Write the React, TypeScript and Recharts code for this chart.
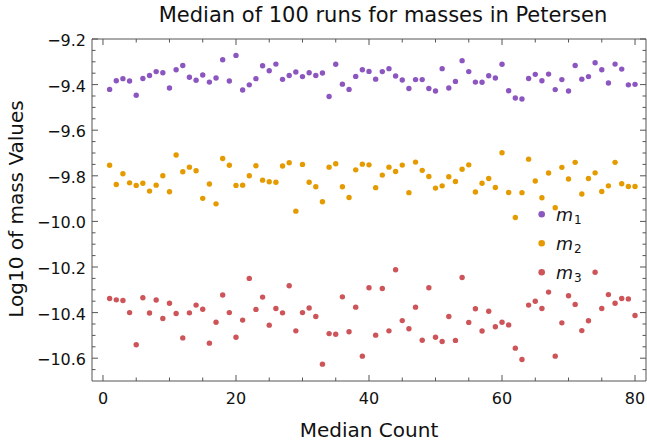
import React from 'react';
import { ScatterChart, Scatter, XAxis, YAxis, ReferenceArea, Legend } from 'recharts';

// x positions (median count index)
const medianCount = [
  1, 2, 3, 4, 5, 6, 7, 8, 9, 10, 11, 12, 13, 14, 15, 16, 17, 18, 19, 20,
  21, 22, 23, 24, 25, 26, 27, 28, 29, 30, 31, 32, 33, 34, 35, 36, 37, 38, 39, 40,
  41, 42, 43, 44, 45, 46, 47, 48, 49, 50, 51, 52, 53, 54, 55, 56, 57, 58, 59, 60,
  61, 62, 63, 64, 65, 66, 67, 68, 69, 70, 71, 72, 73, 74, 75, 76, 77, 78, 79, 80
];

const m1 = [
  -9.421, -9.383, -9.374, -9.384, -9.447, -9.373, -9.36, -9.343, -9.348, -9.415,
  -9.335, -9.316, -9.368, -9.381, -9.358, -9.389, -9.371, -9.291, -9.384, -9.272,
  -9.424, -9.401, -9.374, -9.317, -9.339, -9.31, -9.377, -9.36, -9.345, -9.365,
  -9.348, -9.36, -9.349, -9.452, -9.311, -9.398, -9.421, -9.364, -9.335, -9.342,
  -9.376, -9.343, -9.33, -9.362, -9.38, -9.417, -9.378, -9.378, -9.417, -9.428,
  -9.33, -9.415, -9.386, -9.295, -9.343, -9.389, -9.39, -9.361, -9.371, -9.311,
  -9.427, -9.459, -9.463, -9.373, -9.355, -9.383, -9.354, -9.422, -9.378, -9.428,
  -9.316, -9.376, -9.365, -9.304, -9.335, -9.393, -9.31, -9.332, -9.401, -9.399
];

const m2 = [
  -9.754, -9.838, -9.791, -9.831, -9.842, -9.833, -9.867, -9.841, -9.8, -9.87,
  -9.709, -9.782, -9.762, -9.778, -9.899, -9.836, -9.923, -9.724, -9.754, -9.842,
  -9.841, -9.8, -9.756, -9.819, -9.826, -9.828, -9.757, -9.743, -9.955, -9.75,
  -9.828, -9.848, -9.914, -9.762, -9.747, -9.848, -9.895, -9.774, -9.749, -9.752,
  -9.852, -9.797, -9.762, -9.781, -9.753, -9.874, -9.74, -9.776, -9.803, -9.854,
  -9.844, -9.804, -9.825, -9.771, -9.752, -9.871, -9.833, -9.812, -9.851, -9.699,
  -9.873, -9.983, -9.874, -9.727, -9.823, -9.896, -9.788, -9.94, -9.763, -9.814,
  -9.741, -9.88, -9.812, -9.787, -9.869, -9.844, -9.741, -9.835, -9.847, -9.847
];

const m3 = [
  -10.338, -10.344, -10.347, -10.4, -10.541, -10.335, -10.402, -10.345, -10.426, -10.359,
  -10.404, -10.511, -10.401, -10.367, -10.385, -10.534, -10.442, -10.323, -10.4, -10.508,
  -10.433, -10.25, -10.386, -10.332, -10.455, -10.382, -10.401, -10.282, -10.48, -10.4,
  -10.38, -10.417, -10.626, -10.492, -10.495, -10.331, -10.484, -10.376, -10.591, -10.291,
  -10.499, -10.294, -10.48, -10.212, -10.435, -10.471, -10.376, -10.521, -10.291, -10.508,
  -10.527, -10.417, -10.522, -10.246, -10.443, -10.383, -10.481, -10.394, -10.462, -10.442,
  -10.454, -10.556, -10.606, -10.367, -10.35, -10.382, -10.31, -10.591, -10.445, -10.326,
  -10.364, -10.479, -10.436, -10.223, -10.382, -10.321, -10.359, -10.338, -10.34, -10.413
];

const seriesNames = ['m1', 'm2', 'm3'];
const seriesColors = ['#8c56c1', '#e59b00', '#cd5458'];

const xMajorTicks = [0, 20, 40, 60, 80];
const xMinorTicks = [5, 10, 15, 25, 30, 35, 45, 50, 55, 65, 70, 75];
const yMajorTicks = [-10.6, -10.4, -10.2, -10.0, -9.8, -9.6, -9.4, -9.2];
const yMinorTicks = [
  -10.65, -10.55, -10.5, -10.45, -10.35, -10.3, -10.25, -10.15, -10.1, -10.05,
  -9.95, -9.9, -9.85, -9.75, -9.7, -9.65, -9.55, -9.5, -9.45, -9.35, -9.3, -9.25
];

const X_DOMAIN: [number, number] = [-1.65, 81.65];
const Y_DOMAIN: [number, number] = [-10.7, -9.2];

const W = 647;
const H = 442;
const PLOT_LEFT = 92;
const PLOT_RIGHT = 646;
const PLOT_TOP = 39;
const PLOT_BOTTOM = 381;
const FONT = '"DejaVu Sans", sans-serif';
const FRAME = '#555';

const seriesData = [m1, m2, m3].map(vals => medianCount.map((x, i) => ({ x, y: vals[i] })));

const fmt = (v: number, digits: number) => v.toFixed(digits).replace('-', '\u2212');

function XTick(props: any) {
  const { x, payload } = props;
  const major = xMajorTicks.includes(payload.value);
  const len = major ? 6 : 3.5;
  return (
    <g>
      <line x1={x} x2={x} y1={PLOT_BOTTOM} y2={PLOT_BOTTOM - len} stroke={FRAME} />
      <line x1={x} x2={x} y1={PLOT_TOP} y2={PLOT_TOP + len} stroke={FRAME} />
      {major && (
        <text x={x} y={403.5} textAnchor="middle" fontSize={16} fontFamily={FONT} fill="#111">
          {fmt(payload.value, 0)}
        </text>
      )}
    </g>
  );
}

function YTick(props: any) {
  const { y, payload } = props;
  const major = yMajorTicks.some(t => Math.abs(t - payload.value) < 1e-6);
  const len = major ? 6 : 3.5;
  return (
    <g>
      <line x1={PLOT_LEFT} x2={PLOT_LEFT + len} y1={y} y2={y} stroke={FRAME} />
      <line x1={PLOT_RIGHT} x2={PLOT_RIGHT - len} y1={y} y2={y} stroke={FRAME} />
      {major && (
        <text x={86} y={y + 7} textAnchor="end" fontSize={16} fontFamily={FONT} fill="#111">
          {fmt(payload.value, 1)}
        </text>
      )}
    </g>
  );
}

function Dot(props: any) {
  const { cx, cy, fill } = props;
  return <circle cx={cx} cy={cy} r={2.7} fill={fill} />;
}

function LegendBox(props: any) {
  const payload = props.payload || [];
  return (
    <svg width={90} height={95} style={{ display: 'block' }}>
      {payload.map((entry: any, i: number) => (
        <g key={i}>
          <circle cx={11.7} cy={19.3 + i * 29} r={3.3} fill={entry.color} />
          <text x={26} y={26 + i * 29} fontFamily={FONT} fill="#111">
            <tspan fontSize={17.5} fontStyle="italic">{String(entry.value).charAt(0)}</tspan>
            <tspan fontSize={12} dx={1} dy={3}>{String(entry.value).slice(1)}</tspan>
          </text>
        </g>
      ))}
    </svg>
  );
}

export default function App() {
  return (
    <div style={{ position: 'absolute', left: 0, top: 0, width: W, height: H, background: '#fff' }}>
      <ScatterChart width={W} height={H} margin={{ top: PLOT_TOP, right: W - PLOT_RIGHT, bottom: 0, left: 0 }}>
        <XAxis
          type="number"
          dataKey="x"
          domain={X_DOMAIN}
          ticks={[...xMajorTicks, ...xMinorTicks].sort((a, b) => a - b)}
          interval={0}
          height={H - PLOT_BOTTOM}
          axisLine={false}
          tickLine={false}
          tick={<XTick />}
          allowDataOverflow
        />
        <YAxis
          type="number"
          dataKey="y"
          domain={Y_DOMAIN}
          ticks={[...yMajorTicks, ...yMinorTicks].sort((a, b) => a - b)}
          interval={0}
          width={PLOT_LEFT}
          axisLine={false}
          tickLine={false}
          tick={<YTick />}
          allowDataOverflow
        />
        <ReferenceArea
          x1={X_DOMAIN[0]}
          x2={X_DOMAIN[1]}
          y1={Y_DOMAIN[0]}
          y2={Y_DOMAIN[1]}
          fill="none"
          fillOpacity={0}
          stroke={FRAME}
          strokeWidth={1}
        />
        {seriesData.map((data, i) => (
          <Scatter
            key={seriesNames[i]}
            name={seriesNames[i]}
            data={data}
            fill={seriesColors[i]}
            shape={<Dot />}
            isAnimationActive={false}
          />
        ))}
        <Legend
          layout="horizontal"
          verticalAlign="middle"
          align="center"
          content={<LegendBox />}
          wrapperStyle={{ left: 530, top: 195, width: 90, height: 95 }}
        />
      </ScatterChart>
      <svg width={W} height={H} style={{ position: 'absolute', left: 0, top: 0, pointerEvents: 'none' }}>
        <text x={383} y={22} textAnchor="middle" fontSize={21} fontFamily={FONT} fill="#111">
          Median of 100 runs for masses in Petersen
        </text>
        <text x={369} y={437} textAnchor="middle" fontSize={20} fontFamily={FONT} fill="#111">
          Median Count
        </text>
        <text transform="translate(23,209) rotate(-90)" textAnchor="middle" fontSize={20} fontFamily={FONT} fill="#111">
          Log10 of mass Values
        </text>
      </svg>
    </div>
  );
}
